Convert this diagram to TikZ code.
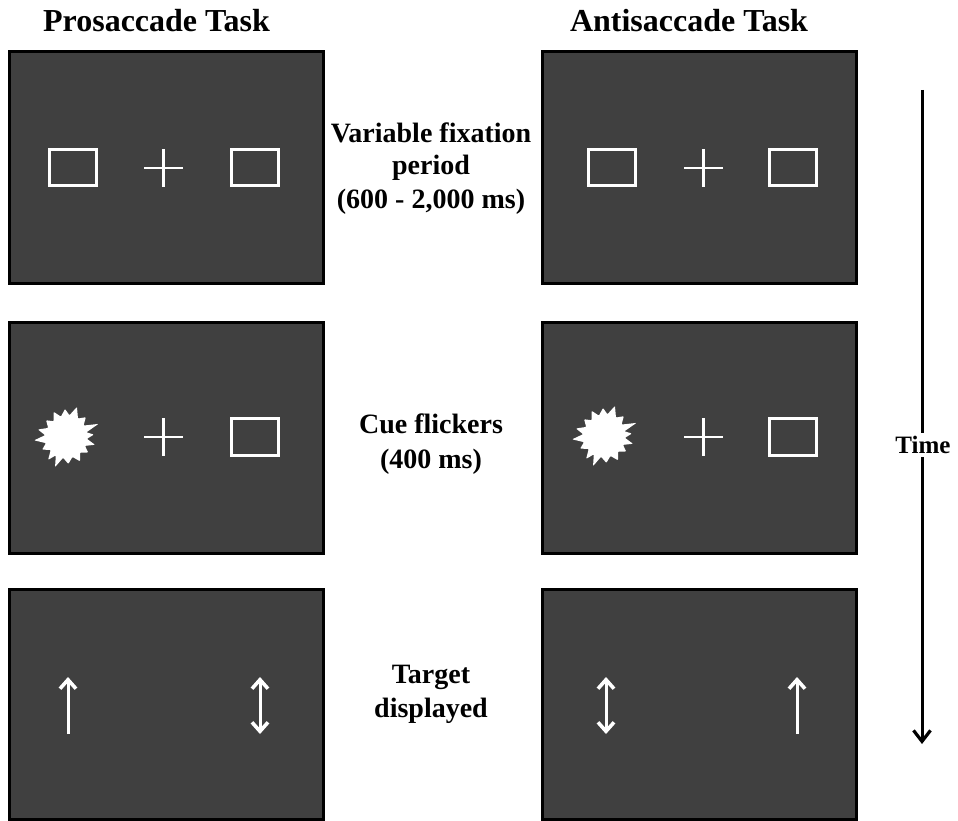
\documentclass[tikz,border=0pt]{standalone}
\usepackage{fontspec}
\setmainfont{Liberation Serif}
\usetikzlibrary{arrows.meta}
\definecolor{screen}{RGB}{64,64,64}
\begin{document}
\begin{tikzpicture}[x=1pt,y=-1pt,
  panel/.style={draw=black,line width=3pt,fill=screen,minimum width=314pt,
    inner sep=0pt,outer sep=0pt,anchor=north west},
  placeholder/.style={draw=white,line width=3pt},
  fixcross/.style={draw=white,line width=2.5pt},
  wtarget/.style={draw=white,line width=3pt,-{Straight Barb[length=9pt,width=16pt,line width=3.6pt]}},
  wdouble/.style={draw=white,line width=3pt,{Straight Barb[length=9pt,width=16pt,line width=3.6pt]}-{Straight Barb[length=9pt,width=16pt,line width=3.6pt]}},
  heading/.style={font=\bfseries\fontsize{32}{36}\selectfont,anchor=base,inner sep=0pt},
  caption/.style={font=\bfseries\fontsize{28}{33}\selectfont,anchor=base,inner sep=0pt},
  timelabel/.style={font=\bfseries\fontsize{25}{30}\selectfont,fill=white,inner sep=3pt},
  burst/.pic={\fill[white,rounded corners=0.8pt]
    (5:28pt) -- (13:21pt) -- (22:35pt) -- (33:21pt) -- (45:28pt) -- (57:22pt) --
    (70:32pt) -- (81:22pt) -- (92:28pt) -- (104:21pt) -- (116:28pt) -- (128:20pt) --
    (140:26pt) -- (153:20pt) -- (165:29pt) -- (175:21pt) -- (186:32pt) -- (197:21pt) --
    (208:27pt) -- (220:20pt) -- (232:29pt) -- (241:21pt) -- (250:32pt) -- (262:21pt) --
    (275:27pt) -- (288:21pt) -- (300:28pt) -- (312:21pt) -- (325:27pt) -- (335:21pt) --
    (345:30pt) -- (355:21pt) -- cycle;}
]
\useasboundingbox (0,0) rectangle (958,821);

% headings
\node[heading] (hpro) at (156.5,32) {Prosaccade Task};
\node[heading] (hanti) at (689,32) {Antisaccade Task};

% panels
\node[panel,minimum height=231pt] (pL1) at (9,52) {};
\node[panel,minimum height=231pt] (pR1) at (542,52) {};
\node[panel,minimum height=231pt] (pL2) at (9,322) {};
\node[panel,minimum height=231pt] (pR2) at (542,322) {};
\node[panel,minimum height=230pt] (pL3) at (9,589) {};
\node[panel,minimum height=230pt] (pR3) at (542,589) {};

% row 1: fixation
\draw[placeholder] (49.5,149.5) rectangle (96.5,186);
\draw[fixcross] (144,168) -- (183,168) (163.5,149) -- (163.5,187);
\draw[placeholder] (231.5,149.5) rectangle (278.5,186);
\draw[placeholder] (588.5,149.5) rectangle (635.5,186);
\draw[fixcross] (684,168) -- (723,168) (703.5,149) -- (703.5,187);
\draw[placeholder] (769.5,149.5) rectangle (816.5,186);

% row 2: cue
\pic at (66,437) {burst};
\draw[fixcross] (144,437) -- (183,437) (163.5,418) -- (163.5,456);
\draw[placeholder] (231.5,418.5) rectangle (278.5,455.5);
\pic at (604,436) {burst};
\draw[fixcross] (684,437) -- (723,437) (703.5,418) -- (703.5,456);
\draw[placeholder] (769.5,418.5) rectangle (816.5,455.5);

% row 3: targets
\draw[wtarget] (68,734) -- (68,677);
\draw[wdouble] (260,734) -- (260,677);
\draw[wdouble] (606,734) -- (606,677);
\draw[wtarget] (797,734) -- (797,677);

% captions
\node[caption] (c1a) at (431,143) {Variable fixation};
\node[caption] (c1b) at (431,175) {period};
\node[caption] (c1c) at (431,208) {(600 - 2,000 ms)};
\node[caption] (c2a) at (431,433) {Cue flickers};
\node[caption] (c2b) at (431,468) {(400 ms)};
\node[caption] (c3a) at (431,683) {Target};
\node[caption] (c3b) at (431,717) {displayed};

% time arrow
\coordinate (tstart) at (922,90);
\coordinate (tend) at (922,744);
\draw[line width=3pt,-{Straight Barb[length=11pt,width=17pt,line width=3.2pt]}] (tstart) -- (tend);
\node[timelabel] (time) at (923,445) {Time};
\end{tikzpicture}
\end{document}
